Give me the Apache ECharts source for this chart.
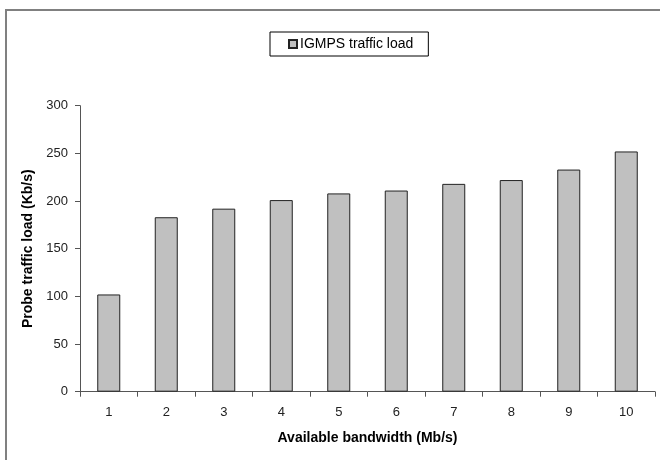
<!DOCTYPE html>
<html>
<head>
<meta charset="utf-8">
<script src="https://cdn.jsdelivr.net/npm/echarts@6/dist/echarts.min.js"></script>
<style>
html,body{margin:0;padding:0;background:#fff;}
#chart{width:660px;height:460px;}
</style>
</head>
<body>
<div id="chart"></div>
<script>
var categories = ['1','2','3','4','5','6','7','8','9','10'];
var seriesName = 'IGMPS traffic load';
var values = [102, 183, 192, 201, 208, 211, 218, 222, 233, 252];
var yTicks = [0, 50, 100, 150, 200, 250, 300];
var xTitle = 'Available bandwidth (Mb/s)';
var yTitle = 'Probe traffic load (Kb/s)';

var chart = echarts.init(document.getElementById('chart'), null, {renderer: 'canvas'});
var font = '"Liberation Sans", Arial, sans-serif';
chart.setOption({
  animation: false,
  backgroundColor: '#fff',
  textStyle: {fontFamily: font},
  graphic: [{
    type: 'rect',
    shape: {x: 6, y: 10, width: 800, height: 600},
    style: {fill: 'none', stroke: '#808080', lineWidth: 2},
    silent: true
  }],
  legend: {
    left: 270,
    top: 32,
    data: [seriesName],
    backgroundColor: '#fff',
    borderColor: '#000',
    borderWidth: 1,
    borderRadius: 0,
    padding: [5, 15, 5, 18],
    itemWidth: 8,
    itemHeight: 8,
    itemGap: 3,
    icon: 'rect',
    textStyle: {fontSize: 14, color: '#000', fontFamily: font, padding: [0,0,0,-2]}
  },
  grid: {left: 80, right: 5, top: 105.7, bottom: 460 - 391.7, containLabel: false},
  xAxis: {
    type: 'category',
    data: categories,
    boundaryGap: true,
    name: xTitle,
    nameLocation: 'middle',
    nameGap: 39,
    nameTextStyle: {fontWeight: 'bold', fontSize: 14, color: '#000', fontFamily: font},
    axisLine: {lineStyle: {color: '#555', width: 1}},
    axisTick: {show: true, alignWithLabel: false, length: 5, lineStyle: {color: '#555'}},
    axisLabel: {fontSize: 13, color: '#222', margin: 14, fontFamily: font},
    splitLine: {show: false}
  },
  yAxis: {
    type: 'value',
    min: yTicks[0],
    max: yTicks[yTicks.length - 1],
    interval: yTicks[1] - yTicks[0],
    name: yTitle,
    nameLocation: 'middle',
    nameGap: 38,
    nameTextStyle: {fontWeight: 'bold', fontSize: 14, color: '#000', fontFamily: font},
    axisLine: {show: true, lineStyle: {color: '#555', width: 1}},
    axisTick: {show: true, length: 5, lineStyle: {color: '#555'}},
    axisLabel: {fontSize: 13, color: '#222', margin: 12, fontFamily: font},
    splitLine: {show: false}
  },
  series: [{
    name: seriesName,
    type: 'bar',
    data: values,
    barWidth: '40%',
    itemStyle: {color: '#c0c0c0', borderColor: '#222', borderWidth: 1}
  }]
});
</script>
</body>
</html>
